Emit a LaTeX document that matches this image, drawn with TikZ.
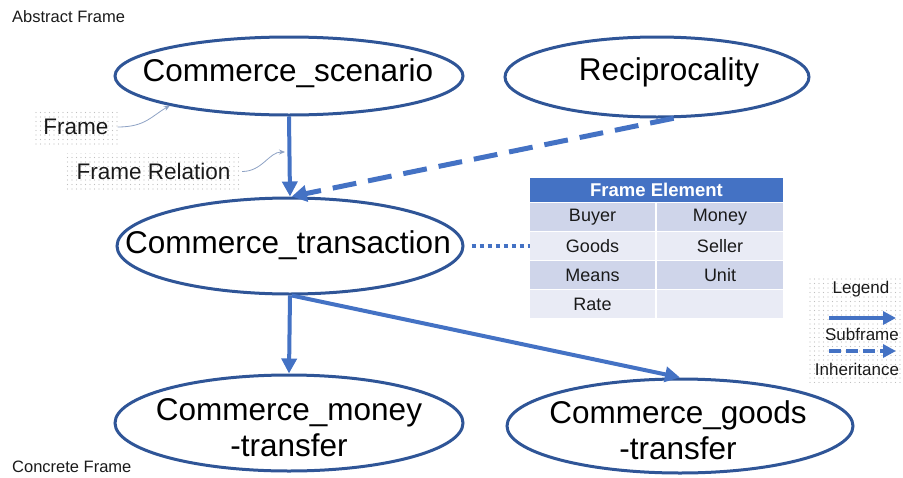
\documentclass[tikz,border=0pt]{standalone}
\usepackage{fontspec}
\setmainfont{Liberation Sans}
\usetikzlibrary{shapes.geometric,arrows.meta,patterns.meta}
\definecolor{edgeblue}{HTML}{2F5597}
\definecolor{arrowblue}{HTML}{4472C4}
\definecolor{rowdark}{HTML}{CFD5EA}
\definecolor{rowlight}{HTML}{E9EBF5}
\definecolor{notegray}{HTML}{8EA2C4}
\definecolor{inktext}{HTML}{1A1A1A}

\begin{document}
\begin{tikzpicture}[x=1pt,y=-1pt,
  frameshape/.style={ellipse,draw=edgeblue,line width=3pt,fill=white,inner sep=0pt},
  frametext/.style={align=center,inner sep=0pt,text=black,font=\fontsize{31.5}{36}\selectfont},
  subframe/.style={draw=arrowblue,line width=4pt,-{Triangle[length=15pt,width=15pt]}},
  inherit/.style={draw=arrowblue,line width=5pt,dash pattern=on 24pt off 12pt,-{Triangle[length=15pt,width=16pt]}},
  dotsbg/.style={pattern={Dots[distance=4.5pt,radius=0.65pt]},pattern color=black!25},
  note/.style={dotsbg,inner sep=0pt,text=inktext,font=\fontsize{22.5}{24}\selectfont},
  pointer/.style={draw=notegray,line width=0.8pt,-{Stealth[length=6pt,width=5pt]}},
  hdr/.style={fill=arrowblue,text=white,minimum width=253pt,minimum height=24pt,inner sep=0pt,font=\fontsize{18.5}{20}\bfseries\selectfont},
  cell/.style={minimum height=27.5pt,inner sep=0pt,text=inktext,font=\fontsize{18}{20}\selectfont},
  lcell/.style={cell,minimum width=125pt},
  rcell/.style={cell,minimum width=126pt},
  smalltext/.style={inner sep=0pt,text=inktext,font=\fontsize{16.5}{18}\selectfont},
  legtext/.style={inner sep=0pt,text=inktext,font=\fontsize{17}{18}\selectfont},
  legsolid/.style={draw=arrowblue,line width=4pt,-{Triangle[length=13pt,width=13pt]}},
  legdash/.style={draw=arrowblue,line width=4pt,dash pattern=on 12pt off 5pt,-{Triangle[length=13pt,width=13pt]}},
  dotline/.style={draw=arrowblue,line width=4pt,dash pattern=on 4pt off 4pt}
]
\useasboundingbox (0,0) rectangle (903,477);

% level captions
\node[smalltext,anchor=west] (abstractcap) at (12,17) {Abstract Frame};
\node[smalltext,anchor=west] (concretecap) at (12,467) {Concrete Frame};

% frames
\node[frameshape,minimum width=348pt,minimum height=78pt] (scen) at (289,76) {};
\node[frametext] (scen-t) at (288,73) {Commerce\_scenario};
\node[frameshape,minimum width=304pt,minimum height=80pt] (recip) at (657,77) {};
\node[frametext] (recip-t) at (669,72) {Reciprocality};
\node[frameshape,minimum width=346pt,minimum height=96pt] (trans) at (290,246) {};
\node[frametext] (trans-t) at (288,245) {Commerce\_transaction};
\node[frameshape,minimum width=348pt,minimum height=96pt] (money) at (289,423) {};
\node[frametext] (money-t) at (289,428) {Commerce\_money\\-transfer};
\node[frameshape,minimum width=346pt,minimum height=94pt] (goods) at (680,426) {};
\node[frametext] (goods-t) at (678,430) {Commerce\_goods\\-transfer};

% frame relations
\draw[subframe] (scen.south) -- (trans.north);
\draw[inherit] (recip.-68) -- (trans.88);
\draw[subframe] (trans.south) -- (money.north);
\draw[subframe] (trans.-88) -- (goods.north);

% frame element table
\node[hdr] (fehead) at (656.5,189.5) {Frame Element};
\node[lcell,fill=rowdark]  (fe11) at (592.5,217) {Buyer};
\node[rcell,fill=rowdark]  (fe12) at (720,217)   {Money};
\node[lcell,fill=rowlight] (fe21) at (592.5,246) {Goods};
\node[rcell,fill=rowlight] (fe22) at (720,246)   {Seller};
\node[lcell,fill=rowdark]  (fe31) at (592.5,275) {Means};
\node[rcell,fill=rowdark]  (fe32) at (720,275)   {Unit};
\node[lcell,fill=rowlight] (fe41) at (592.5,304) {Rate};
\node[rcell,fill=rowlight] (fe42) at (720,304)   {};
\draw[dotline,shorten <=7pt] (trans.east) -- (fe21.west);

% explanatory notes
\node[note,minimum width=83pt,minimum height=36pt] (framenote) at (76,127) {Frame};
\node[note,minimum width=177pt,minimum height=37pt] (relnote) at (153.5,171.5) {Frame Relation};
\coordinate (reltip) at (285,152);
\draw[pointer] (framenote.east) .. controls +(28,0) and +(-18,10) .. (scen.194);
\draw[pointer] (relnote.east) .. controls +(20,0) and +(-16,0) .. (reltip);

% legend
\node[dotsbg,minimum width=95pt,minimum height=107pt,inner sep=0pt] (legendbox) at (855.5,328.5) {};
\node[legtext] (legendtitle) at (861,289) {Legend};
\coordinate (ls1) at (829,318);
\coordinate (ls2) at (896,318);
\draw[legsolid] (ls1) -- (ls2);
\node[legtext] (legsub) at (862,334) {Subframe};
\coordinate (ld1) at (829,351);
\coordinate (ld2) at (896,351);
\draw[legdash] (ld1) -- (ld2);
\node[legtext] (leginh) at (857,369) {Inheritance};
\end{tikzpicture}
\end{document}
